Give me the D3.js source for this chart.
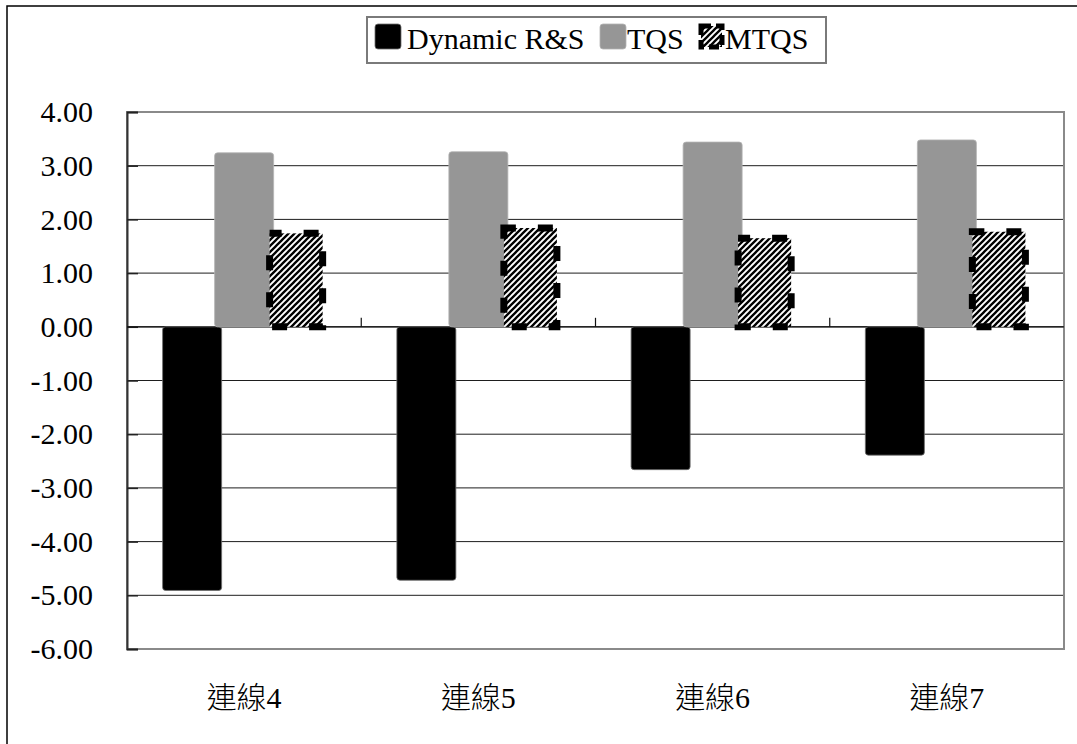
<!DOCTYPE html>
<html>
<head>
<meta charset="utf-8">
<script src="https://cdn.jsdelivr.net/npm/d3@7"></script>
<style>
  html, body { margin: 0; padding: 0; background: #fff; }
  svg { display: block; }
</style>
</head>
<body>
<div id="chart"></div>
<script>
// Data
const categories = ["連線4", "連線5", "連線6", "連線7"];
const dynamicRS = [-4.91, -4.72, -2.66, -2.39];
const tqs = [3.24, 3.26, 3.44, 3.48];
const mtqs = [1.74, 1.84, 1.65, 1.77];
const seriesNames = ["Dynamic R&S", "TQS", "MTQS"];
const yTicks = [4, 3, 2, 1, 0, -1, -2, -3, -4, -5, -6];

const W = 1077, H = 744;
const plot = { left: 127, right: 1064, top: 112, bottom: 649 };

const svg = d3.select("#chart").append("svg")
  .attr("width", W).attr("height", H);

const defs = svg.append("defs");
// diagonal "/" hatch used by the MTQS series
const hatch = defs.append("pattern")
  .attr("id", "hatch")
  .attr("patternUnits", "userSpaceOnUse")
  .attr("width", 6).attr("height", 6);
hatch.append("rect").attr("width", 6).attr("height", 6).attr("fill", "#fff");
hatch.append("path")
  .attr("d", "M-1.5,1.5 l3,-3 M0,6 l6,-6 M4.5,7.5 l3,-3")
  .attr("stroke", "#000").attr("stroke-width", 2.3);

// outer frame
svg.append("rect")
  .attr("x", 7).attr("y", 6).attr("width", W + 10).attr("height", H + 10)
  .attr("fill", "#fff").attr("stroke", "#000").attr("stroke-width", 1.5);

const y = d3.scaleLinear().domain([-6, 4]).range([plot.bottom, plot.top]);
const x = d3.scaleBand().domain(categories).range([plot.left, plot.right]).padding(0);

const bw = x.bandwidth();
const barW = bw * 0.252;
const barStep = bw * 0.222;
const barCenter = (cat, i) => x(cat) + bw / 2 + (i - 1) * barStep;

// plain hyphen for negative tick labels
const fmt = d3.formatLocale({ decimal: ".", thousands: ",", grouping: [3], currency: ["", ""], minus: "-" }).format(".2f");

// horizontal gridlines
svg.append("g").selectAll("line")
  .data(yTicks.filter(t => t !== 4 && t !== -6))
  .join("line")
  .attr("x1", plot.left).attr("x2", plot.right)
  .attr("y1", d => y(d)).attr("y2", d => y(d))
  .attr("stroke", "#1e1e1e").attr("stroke-width", 1);

// plot frame
svg.append("rect")
  .attr("x", plot.left).attr("y", plot.top)
  .attr("width", plot.right - plot.left).attr("height", plot.bottom - plot.top)
  .attr("fill", "none").attr("stroke", "#8a8a8a").attr("stroke-width", 2);

// value axis
const yAxis = svg.append("g")
  .attr("transform", `translate(${plot.left},0)`)
  .call(d3.axisLeft(y).tickValues(yTicks).tickFormat(fmt)
    .tickSize(-11).tickPadding(34));
yAxis.select(".domain").attr("stroke", "#333").attr("stroke-width", 2);
yAxis.selectAll(".tick line").attr("stroke", "#222").attr("stroke-width", 1.5);
yAxis.selectAll(".tick text")
  .attr("font-family", "'Liberation Serif', 'Times New Roman', serif")
  .attr("font-size", 30).attr("fill", "#000");

// category axis along zero
const zeroY = y(0);
svg.append("line")
  .attr("x1", plot.left).attr("x2", plot.right)
  .attr("y1", zeroY).attr("y2", zeroY)
  .attr("stroke", "#111").attr("stroke-width", 1.2);
svg.append("g").selectAll("line")
  .data(categories.slice(1))
  .join("line")
  .attr("x1", d => x(d)).attr("x2", d => x(d))
  .attr("y1", zeroY - 9).attr("y2", zeroY)
  .attr("stroke", "#111").attr("stroke-width", 1.2);

// category labels
const xAxis = svg.append("g")
  .attr("transform", `translate(0,${plot.bottom})`)
  .call(d3.axisBottom(x).tickSize(0).tickPadding(38));
xAxis.select(".domain").remove();
xAxis.selectAll(".tick text")
  .attr("font-family", "'Liberation Serif', 'Noto Sans CJK TC', serif")
  .attr("font-weight", 300)
  .attr("font-size", 30).attr("fill", "#000");

// bars
const bars = svg.append("g");
const rows = categories.map((c, k) => ({ cat: c, vals: [dynamicRS[k], tqs[k], mtqs[k]] }));

// Dynamic R&S
bars.selectAll("rect.drs").data(rows).join("rect")
  .attr("class", "drs")
  .attr("x", d => barCenter(d.cat, 0) - barW / 2)
  .attr("width", barW)
  .attr("y", d => y(Math.max(0, d.vals[0])))
  .attr("height", d => Math.abs(y(d.vals[0]) - y(0)))
  .attr("rx", 3).attr("fill", "#000")
  .attr("stroke", "#6e6e6e").attr("stroke-width", 0.8);

// TQS
bars.selectAll("rect.tqs").data(rows).join("rect")
  .attr("class", "tqs")
  .attr("x", d => barCenter(d.cat, 1) - barW / 2)
  .attr("width", barW)
  .attr("y", d => y(Math.max(0, d.vals[1])))
  .attr("height", d => Math.abs(y(d.vals[1]) - y(0)))
  .attr("rx", 3).attr("fill", "#969696")
  .attr("stroke", "#b4b4b4").attr("stroke-width", 0.8);

// MTQS: hatched with heavy dashed outline
const mW = barW - 6;
bars.selectAll("rect.mtqs").data(rows).join("rect")
  .attr("class", "mtqs")
  .attr("x", d => barCenter(d.cat, 2) - mW / 2)
  .attr("width", mW)
  .attr("y", d => y(Math.max(0, d.vals[2])))
  .attr("height", d => Math.abs(y(d.vals[2]) - y(0)))
  .attr("fill", "url(#hatch)")
  .attr("stroke", "#000").attr("stroke-width", 7)
  .attr("stroke-dasharray", "15 22").attr("stroke-dashoffset", 3);

// legend
const legend = svg.append("g");
legend.append("rect")
  .attr("x", 367).attr("y", 17).attr("width", 459).attr("height", 46)
  .attr("fill", "#fff").attr("stroke", "#7a7a7a").attr("stroke-width", 2);

const legendItems = [
  { name: seriesNames[0], sx: 375, tx: 407, fill: "#000", stroke: "#6e6e6e" },
  { name: seriesNames[1], sx: 600, tx: 627, fill: "#969696", stroke: "#b4b4b4" },
  { name: seriesNames[2], sx: 701, tx: 725, fill: "url(#hatch)", stroke: "#000" }
];
legendItems.forEach((it, i) => {
  const sw = legend.append("rect")
    .attr("x", it.sx).attr("y", i === 2 ? 26 : 24)
    .attr("width", i === 2 ? 21 : 26).attr("height", i === 2 ? 21 : 25)
    .attr("fill", it.fill);
  if (i === 2) {
    sw.attr("stroke", "#000").attr("stroke-width", 5)
      .attr("stroke-dasharray", "10 5");
  } else {
    sw.attr("rx", 3).attr("stroke", it.stroke).attr("stroke-width", 0.8);
  }
  legend.append("text")
    .attr("x", it.tx).attr("y", 49)
    .attr("font-family", "'Liberation Serif', 'Times New Roman', serif")
    .attr("font-size", 30).attr("fill", "#000")
    .text(it.name);
});
</script>
</body>
</html>
